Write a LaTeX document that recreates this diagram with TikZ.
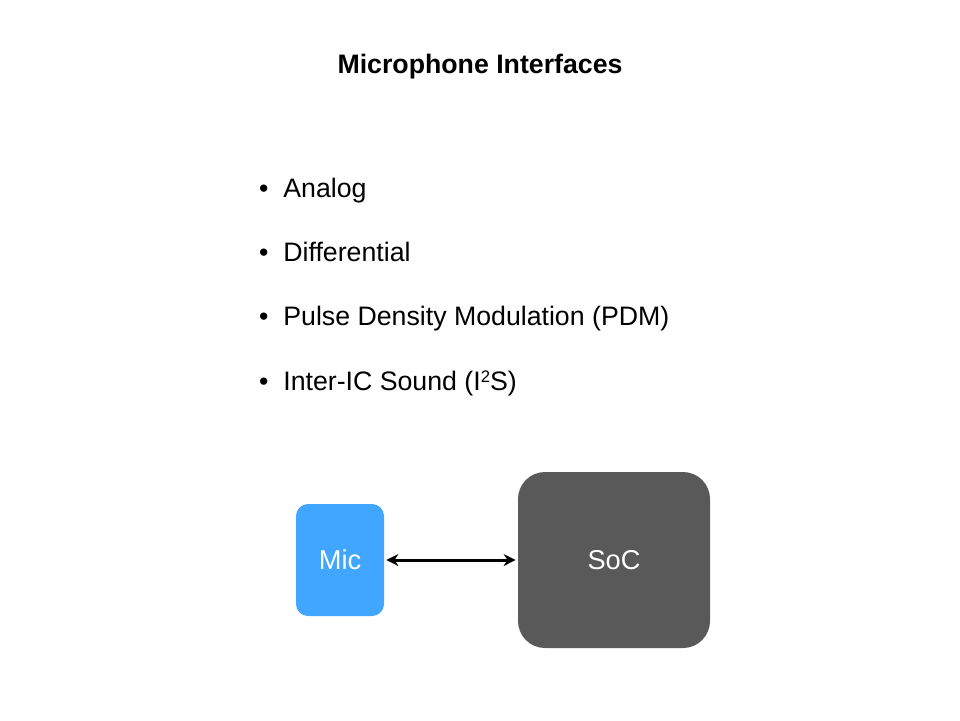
\documentclass[tikz,border=0pt]{standalone}
\usepackage{fontspec}
\setmainfont{Liberation Sans}
\usetikzlibrary{shapes, arrows.meta, positioning, calc}

\definecolor{micblue}{RGB}{64,166,255}
\definecolor{socgray}{RGB}{89,89,89}

\newcommand{\sqsup}[1]{{\fontsize{9.5}{10}\selectfont\raisebox{0.42em}{#1}}}

\begin{document}
\begin{tikzpicture} [
    title/.style={font=\fontsize{15.2}{18}\selectfont\bfseries, anchor=base},
    point/.style={font=\fontsize{15.2}{18}\selectfont, anchor=base west, inner sep=0pt},
    mic/.style={rectangle, fill=micblue, minimum width=1.76cm, minimum height=2.24cm, rounded corners=0.24cm, text=white, font=\fontsize{15.5}{18}\selectfont},
    soc/.style={rectangle, fill=socgray, minimum width=3.84cm, minimum height=3.52cm, rounded corners=0.54cm, text=white, font=\fontsize{15.5}{18}\selectfont},
    arrow/.style={{Stealth[length=0.24cm,width=0.24cm]}-{Stealth[length=0.24cm,width=0.24cm]}, line width=0.06cm, shorten <=0.04cm, shorten >=0.04cm}
]

% page frame
\useasboundingbox[fill=white] (0,0) rectangle (19.2,-14.4);

% heading
\node[title] (heading) at (9.6,-1.46) {Microphone Interfaces};

% list of interfaces
\node[point] (analog) at (5.66,-3.94) {\llap{\textbullet\hspace{0.3cm}}Analog};
\node[point] (diff) at (5.66,-5.22) {\llap{\textbullet\hspace{0.3cm}}Differential};
\node[point] (pdm) at (5.66,-6.51) {\llap{\textbullet\hspace{0.3cm}}Pulse Density Modulation (PDM)};
\node[point] (iis) at (5.66,-7.80) {\llap{\textbullet\hspace{0.3cm}}Inter-IC Sound (I\sqsup{2}S)};

% blocks
\node[mic] (mic) at (6.8,-11.2) {Mic};
\node[soc] (soc) at (12.28,-11.2) {SoC};

% link
\draw[arrow] (mic) -- (soc);

\end{tikzpicture}
\end{document}
